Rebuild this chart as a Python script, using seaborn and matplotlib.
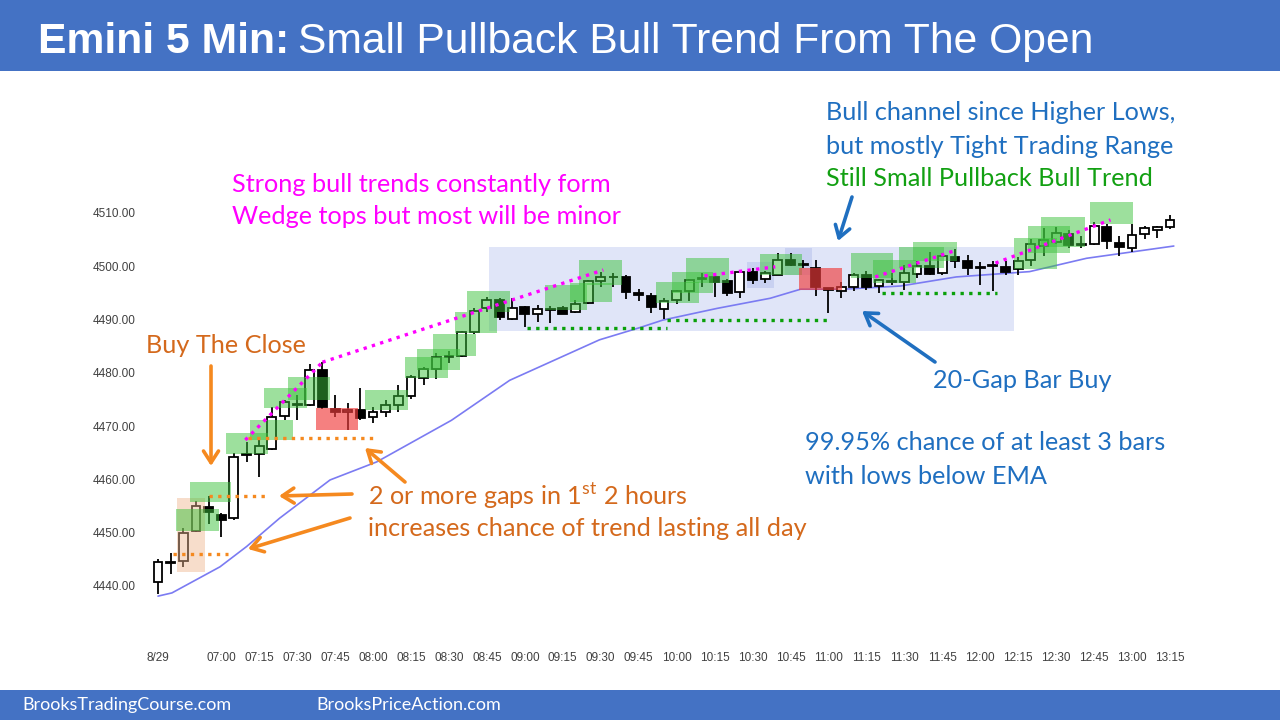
import matplotlib
matplotlib.use('Agg')
import matplotlib.pyplot as plt
from matplotlib.patches import Rectangle
import seaborn as sns
import numpy as np

# 5 minute bars, index 0 = first bar of the day (8/29)
opens = [4440.8, 4444.3, 4444.6, 4450.4, 4454.9, 4453.3, 4452.7, 4464.6, 4464.8, 4465.8,
         4471.9, 4474.0, 4474.0, 4480.5, 4473.3, 4472.7, 4473.0, 4471.8, 4472.7, 4474.0,
         4475.6, 4479.1, 4480.7, 4483.0, 4483.2, 4487.7, 4492.1, 4493.7, 4490.2, 4492.4,
         4491.0, 4491.8, 4492.1, 4491.5, 4493.2, 4497.3, 4497.9, 4497.9, 4495.0, 4494.4,
         4491.9, 4493.7, 4495.3, 4497.6, 4497.9, 4497.3, 4495.1, 4499.0, 4497.6, 4498.3,
         4501.1, 4500.3, 4499.6, 4495.9, 4495.3, 4496.1, 4498.3, 4496.3, 4497.1, 4497.1,
         4498.5, 4500.0, 4498.7, 4501.7, 4500.9, 4499.6, 4500.0, 4499.8, 4499.4, 4501.2,
         4503.8, 4504.6, 4506.0, 4504.0, 4504.1, 4507.4, 4504.3, 4503.5, 4506.0, 4506.8,
         4507.4]
highs = [4445.1, 4446.2, 4450.9, 4456.0, 4456.8, 4453.7, 4465.0, 4467.1, 4467.4, 4473.6,
         4474.9, 4475.8, 4481.6, 4482.1, 4475.8, 4474.3, 4477.1, 4473.5, 4474.9, 4477.7,
         4479.6, 4481.1, 4483.7, 4484.1, 4487.8, 4492.2, 4494.2, 4494.0, 4494.0, 4492.6,
         4492.7, 4492.5, 4492.5, 4493.7, 4497.5, 4499.0, 4498.7, 4498.3, 4495.7, 4494.9,
         4494.0, 4495.5, 4497.7, 4498.7, 4498.7, 4497.6, 4499.2, 4499.6, 4499.2, 4502.4,
         4502.5, 4501.2, 4501.1, 4495.9, 4497.1, 4498.7, 4499.1, 4497.7, 4498.7, 4500.2,
         4501.0, 4502.7, 4502.5, 4503.2, 4502.1, 4500.8, 4501.0, 4500.9, 4501.8, 4505.2,
         4507.1, 4507.3, 4506.8, 4505.6, 4508.3, 4507.9, 4505.7, 4507.9, 4507.5, 4507.6,
         4509.6]
lows = [4438.5, 4442.2, 4443.6, 4450.2, 4451.6, 4449.2, 4452.4, 4463.3, 4460.5, 4465.5,
        4471.1, 4471.1, 4473.8, 4473.3, 4471.8, 4469.3, 4471.1, 4470.5, 4471.8, 4472.7,
        4475.0, 4477.7, 4478.8, 4481.8, 4483.0, 4487.3, 4491.5, 4489.9, 4489.9, 4488.6,
        4489.6, 4489.4, 4491.0, 4491.2, 4492.9, 4496.2, 4496.2, 4493.8, 4493.5, 4491.3,
        4490.2, 4492.9, 4493.5, 4496.2, 4494.2, 4494.4, 4494.0, 4496.7, 4496.8, 4498.3,
        4500.0, 4499.6, 4494.4, 4491.2, 4494.0, 4495.4, 4495.6, 4494.9, 4496.5, 4495.5,
        4497.8, 4498.3, 4498.3, 4499.6, 4498.3, 4496.5, 4495.3, 4498.3, 4498.3, 4500.0,
        4502.0, 4504.1, 4503.5, 4503.5, 4504.0, 4503.2, 4502.0, 4502.6, 4505.2, 4505.3,
        4507.0]
closes = [4444.5, 4444.5, 4450.0, 4455.0, 4453.9, 4452.3, 4464.3, 4464.7, 4466.3, 4471.8,
          4474.5, 4474.2, 4480.5, 4473.6, 4472.7, 4473.1, 4471.5, 4472.7, 4474.0, 4475.6,
          4479.3, 4480.8, 4482.9, 4483.1, 4487.7, 4491.6, 4493.7, 4490.5, 4492.1, 4491.0,
          4491.9, 4491.9, 4491.0, 4492.9, 4497.3, 4497.9, 4498.0, 4495.1, 4494.6, 4492.4,
          4493.5, 4495.3, 4497.5, 4497.8, 4497.1, 4494.9, 4499.0, 4497.4, 4498.7, 4501.2,
          4500.3, 4500.4, 4496.1, 4495.5, 4496.2, 4498.3, 4496.1, 4497.4, 4497.2, 4498.7,
          4500.0, 4498.5, 4501.9, 4500.9, 4499.6, 4499.7, 4500.1, 4499.0, 4500.9, 4504.1,
          4504.9, 4506.2, 4504.0, 4504.1, 4507.6, 4504.7, 4503.7, 4505.9, 4507.1, 4507.4,
          4508.7]

# 20 bar EMA
ema_bars = [0, 1.1, 4.9, 7.0, 9.6, 13.6, 17.3, 23.2, 27.8, 34.9, 38.1, 39.9, 44.2,
            48.4, 50.8, 54.2, 58.7, 63.1, 68.9, 73.4, 80.3]
ema_vals = [4438.1, 4438.7, 4443.6, 4447.4, 4452.7, 4459.9, 4463.3, 4471.1, 4478.6,
            4486.2, 4488.5, 4489.9, 4492.1, 4494.0, 4495.7, 4495.7, 4496.3, 4498.0,
            4499.0, 4501.5, 4503.8]

tick_bars = [0] + list(range(5, 81, 3))
tick_labels = ['8/29', '07:00', '07:15', '07:30', '07:45', '08:00', '08:15', '08:30',
               '08:45', '09:00', '09:15', '09:30', '09:45', '10:00', '10:15', '10:30',
               '10:45', '11:00', '11:15', '11:30', '11:45', '12:00', '12:15', '12:30',
               '12:45', '13:00', '13:15']
price_ticks = [4440, 4450, 4460, 4470, 4480, 4490, 4500, 4510]

# boxes: (bar from, bar to, low, high)
green_boxes = [(1.4, 4.8, 4450.3, 4454.5), (2.5, 5.8, 4455.8, 4459.5), (5.4, 8.7, 4464.8, 4468.7),
               (7.3, 10.7, 4467.4, 4471.2), (8.4, 11.8, 4473.4, 4477.2), (10.3, 13.6, 4474.9, 4479.2),
               (16.4, 19.8, 4473.0, 4476.8), (19.5, 22.9, 4479.0, 4483.0), (20.5, 23.9, 4480.5, 4484.5),
               (21.7, 25.1, 4483.2, 4487.3), (23.5, 26.8, 4487.5, 4491.4), (24.4, 27.8, 4491.4, 4495.4),
               (30.6, 33.9, 4491.8, 4496.5), (32.6, 35.9, 4493.3, 4496.9), (33.3, 36.7, 4496.5, 4501.2),
               (39.4, 42.8, 4493.2, 4497.1), (40.6, 43.9, 4495.0, 4498.9), (41.7, 45.1, 4496.9, 4501.6),
               (47.6, 50.9, 4498.4, 4502.3), (54.8, 58.1, 4497.8, 4502.5), (56.5, 59.9, 4496.9, 4501.2),
               (58.6, 62.1, 4499.7, 4503.6), (59.7, 63.2, 4500.9, 4504.6), (67.7, 71.1, 4499.5, 4505.3),
               (68.8, 72.1, 4502.5, 4507.5), (69.8, 73.3, 4503.6, 4509.2), (73.7, 77.1, 4507.9, 4512.1)]
red_boxes = [(12.5, 15.8, 4469.3, 4473.4), (50.7, 54.1, 4495.6, 4499.7)]
tan_boxes = [(1.5, 3.7, 4442.6, 4456.5)]
blue_boxes = [(46.6, 48.7, 4495.9, 4500.8), (49.6, 51.7, 4498.4, 4503.4)]
range_box = (26.2, 67.7, 4487.9, 4503.6)

# dotted lines: (bar from, bar to, price from, price to)
orange_dots = [(1.2, 5.5, 4446.0, 4446.0), (4.0, 8.5, 4456.8, 4456.8), (7.1, 17.4, 4467.7, 4467.7)]
green_dots = [(29.2, 40.2, 4488.4, 4488.4), (40.2, 53.1, 4490.0, 4490.0), (57.2, 66.3, 4494.9, 4494.9)]
magenta_dots = [(6.9, 13.0, 4467.4, 4482.0), (13.0, 35.2, 4482.0, 4499.3), (43.2, 48.8, 4498.2, 4499.9),
                (56.7, 63.2, 4498.0, 4503.1), (66.2, 75.3, 4500.6, 4508.7)]

BLUE = '#1f6fc0'
ORANGE_TXT = '#d4691c'
ORANGE = '#f5891f'
BAND = '#4472c4'

sns.set_theme(style='white')
plt.rcParams['font.family'] = ['Lato', 'DejaVu Sans']
plt.rcParams['mathtext.fontset'] = 'custom'
plt.rcParams['mathtext.rm'] = 'Lato'

fig = plt.figure(figsize=(12.8, 7.2), dpi=100)
fig.patch.set_facecolor('white')

# plot area: pixel x 140..1190, y 195..645
ax = fig.add_axes([140 / 1280, (720 - 645) / 720, 1050 / 1280, 450 / 720])
px_bar = 12.65
px_pt = 5.3286
ax.set_xlim(-18 / px_bar, 80 + 20 / px_bar)
ax.set_ylim(4440 - 59 / px_pt, 4440 + 391 / px_pt)
for s in ax.spines.values():
    s.set_visible(False)
ax.set_facecolor('none')

x0, x1, lo, hi = range_box
ax.add_patch(Rectangle((x0, lo), x1 - x0, hi - lo, facecolor='#e0e5f8', edgecolor='none', zorder=0))
for x0, x1, lo, hi in blue_boxes:
    ax.add_patch(Rectangle((x0, lo), x1 - x0, hi - lo, facecolor='#c4ccf0', edgecolor='none', alpha=0.8, zorder=1))

# EMA
sns.lineplot(x=ema_bars, y=ema_vals, ax=ax, color='#7b7bf2', lw=1.2, zorder=2, sort=False)

# candles
idx = np.arange(len(opens))
ax.vlines(idx, lows, highs, color='black', lw=1.3, zorder=3)
for i in idx:
    o, c = opens[i], closes[i]
    h = max(abs(c - o), 0.18)
    fc = 'black' if c < o else 'white'
    ax.add_patch(Rectangle((i - 0.35, min(o, c)), 0.7, h, facecolor=fc, edgecolor='black', lw=1.3, zorder=4))

for x0, x1, lo, hi in tan_boxes:
    ax.add_patch(Rectangle((x0, lo), x1 - x0, hi - lo, facecolor='#eeb48c', edgecolor='none', alpha=0.45, zorder=5))
for x0, x1, lo, hi in green_boxes:
    ax.add_patch(Rectangle((x0, lo), x1 - x0, hi - lo, facecolor='#3cc23c', edgecolor='none', alpha=0.5, zorder=5))
for x0, x1, lo, hi in red_boxes:
    ax.add_patch(Rectangle((x0, lo), x1 - x0, hi - lo, facecolor='#f03c3c', edgecolor='none', alpha=0.65, zorder=5))

dot_style = dict(lw=2.4, linestyle=(0, (1, 1.6)), zorder=6, solid_capstyle='butt')
for a, b, p, q in orange_dots:
    ax.plot([a, b], [p, q], color=ORANGE, **dot_style)
for a, b, p, q in green_dots:
    ax.plot([a, b], [p, q], color='#0aa00a', **dot_style)
for a, b, p, q in magenta_dots:
    ax.plot([a, b], [p, q], color='#ff00ff', **dot_style)

ax.set_xticks(tick_bars)
ax.set_xticklabels(tick_labels)
ax.set_yticks(price_ticks)
ax.set_yticklabels([f'{v:.2f}' for v in price_ticks])
ax.tick_params(axis='both', length=0, labelsize=8.5, labelcolor='#404040', pad=5)
ax.tick_params(axis='y', pad=3)
for lab in ax.get_xticklabels() + ax.get_yticklabels():
    lab.set_family('Liberation Sans')

# title and footer bands
fig.add_artist(Rectangle((0, 1 - 71 / 720), 1, 71 / 720, transform=fig.transFigure, facecolor=BAND, edgecolor='none'))
fig.add_artist(Rectangle((0, 0), 1, 30 / 720, transform=fig.transFigure, facecolor=BAND, edgecolor='none'))
t1 = fig.text(38 / 1280, (720 - 53) / 720, 'Emini 5 Min:', color='white', fontsize=30.7,
              family='Liberation Sans', weight='bold', va='baseline')
fig.canvas.draw()
bb = t1.get_window_extent()
fig.text((bb.x1 + 9) / 1280, (720 - 53) / 720, 'Small Pullback Bull Trend From The Open', color='white',
         fontsize=30.7, family='Liberation Sans', va='baseline')
fig.text(22 / 1280, 15 / 720, 'BrooksTradingCourse.com', color='white', fontsize=13, va='center')
fig.text(316 / 1280, 15 / 720, 'BrooksPriceAction.com', color='white', fontsize=13, va='center')


def note(x, y, s, color):
    fig.text(x / 1280, 1 - y / 720, s, color=color, fontsize=18.2, va='center', ha='left')


note(146, 345, 'Buy The Close', ORANGE_TXT)
note(232, 185, 'Strong bull trends constantly form', '#ff00ff')
note(232, 217, 'Wedge tops but most will be minor', '#ff00ff')
note(826, 113, 'Bull channel since Higher Lows,', BLUE)
note(826, 146, 'but mostly Tight Trading Range', BLUE)
note(826, 179, 'Still Small Pullback Bull Trend', '#12a012')
note(933, 380, '20-Gap Bar Buy', BLUE)
note(805, 443, '99.95% chance of at least 3 bars', BLUE)
note(805, 477, 'with lows below EMA', BLUE)
note(368, 496, r'2 or more gaps in 1$^{\mathrm{st}}$ 2 hours', ORANGE_TXT)
note(368, 529, 'increases chance of trend lasting all day', ORANGE_TXT)


def arrow(xs, ys, xe, ye, color):
    ax.annotate('', xy=(xe, 720 - ye), xycoords='figure pixels', xytext=(xs, 720 - ys),
                textcoords='figure pixels',
                arrowprops=dict(arrowstyle='->,head_length=0.7,head_width=0.45', color=color, lw=2.6,
                                shrinkA=0, shrinkB=0))


arrow(211, 366, 211, 466, ORANGE)
arrow(352, 494, 279, 496, ORANGE)
arrow(350, 518, 248, 549, ORANGE)
arrow(405, 482, 365, 448, ORANGE)
arrow(852, 197, 838, 241, BLUE)
arrow(935, 362, 862, 311, BLUE)

fig.savefig('out.png', dpi=100)
